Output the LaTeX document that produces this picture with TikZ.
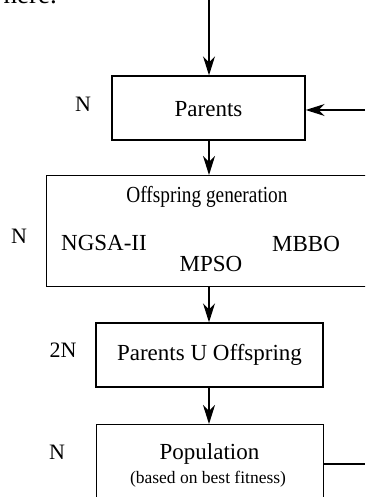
\documentclass[tikz,border=0pt]{standalone}
\usepackage{fontspec}
\setmainfont{Liberation Serif}
\usetikzlibrary{arrows.meta}
\begin{document}
\begin{tikzpicture}[x=1pt,y=-1pt,
  box/.style={draw,line width=1.4pt,inner sep=0pt},
  lbl/.style={font=\fontsize{22}{24}\selectfont,inner sep=0pt},
  txt/.style={font=\fontsize{23}{26}\selectfont,inner sep=0pt},
  arr/.style={line width=1.2pt,-{Stealth[length=19pt,width=12pt,inset=6pt]}},
  ln/.style={line width=1.2pt}]
\useasboundingbox (0,0) rectangle (365,497);
\clip (0,0) rectangle (365,497);
% fragment of text above
\node[font=\fontsize{27}{30}\selectfont,inner sep=0pt,anchor=base east] (frag) at (57,4) {here.};
% boxes
\node[box,minimum width=193pt,minimum height=64pt] (par) at (208.5,108) {};
\node[txt] (partxt) at (208.5,109) {Parents};
\node[box,minimum width=340pt,minimum height=111pt,anchor=north west] (off) at (46,175) {};
\node[txt,anchor=base] (offtxt) at (207,202) {\scalebox{0.84}[1]{Offspring generation}};
\node[txt,anchor=base] (ngsa) at (104,250) {NGSA-II};
\node[txt,anchor=base] (mbbo) at (306,251) {MBBO};
\node[txt,anchor=base] (mpso) at (211,271) {MPSO};
\node[box,minimum width=227pt,minimum height=64pt] (puo) at (209.5,355) {};
\node[txt] (puotxt) at (209.5,355) {Parents U Offspring};
\node[box,minimum width=227pt,minimum height=100pt,anchor=north west] (pop) at (96,424) {};
\node[txt,anchor=base] (poptxt) at (209.5,459) {Population};
\node[font=\fontsize{17.5}{20}\selectfont,inner sep=0pt,anchor=base] (popsub) at (208,483) {(based on best fitness)};
% side labels
\node[lbl,anchor=base] (n1) at (83,112) {N};
\node[lbl,anchor=base] (n2) at (19,243) {N};
\node[lbl,anchor=base] (n3) at (63,357) {2N};
\node[lbl,anchor=base] (n4) at (57,459) {N};
% connectors
\coordinate (topin) at (209,0);
\coordinate (rightin) at (365,110);
\coordinate (rightout) at (365,464);
\draw[arr] (topin) -- (par.north -| topin);
\draw[arr] (rightin) -- (par.east |- rightin);
\draw[arr] (par.south -| topin) -- (off.north -| topin);
\draw[arr] (off.south -| topin) -- (puo.north -| topin);
\draw[arr] (puo.south -| topin) -- (pop.north -| topin);
\draw[ln] (pop.east |- rightout) -- (rightout);
\end{tikzpicture}
\end{document}
